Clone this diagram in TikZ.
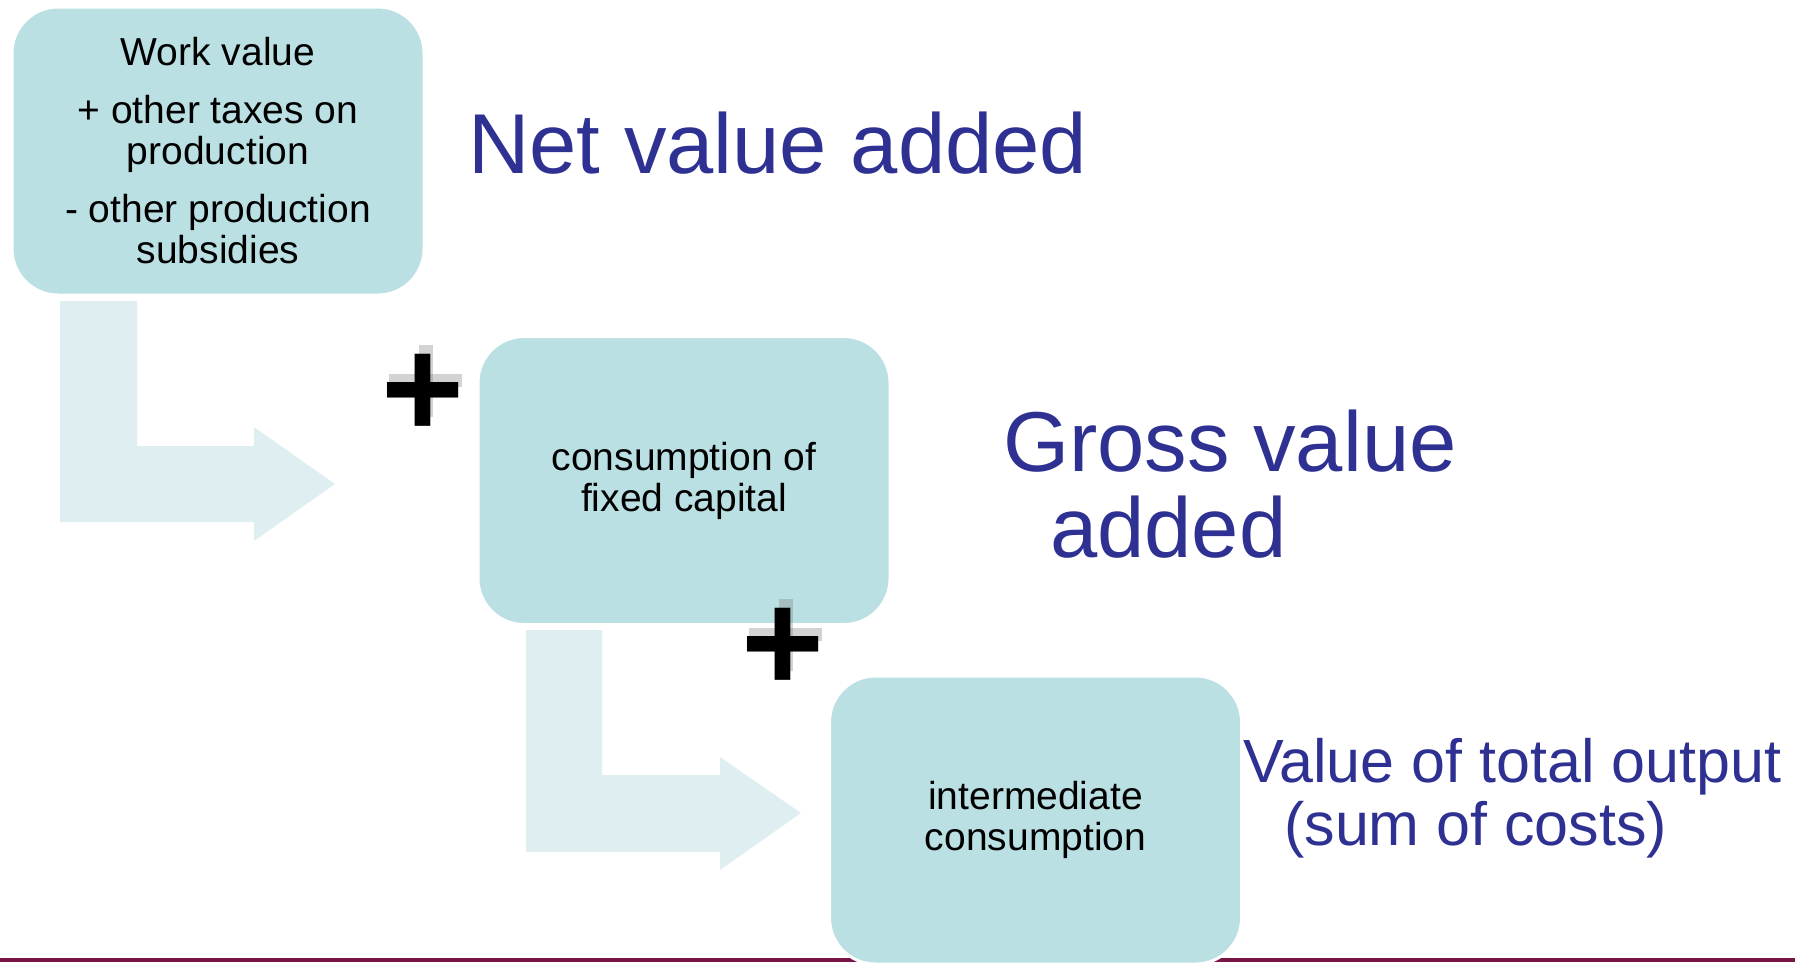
\documentclass[tikz,border=0pt]{standalone}
\usepackage{fontspec}
\setmainfont{Liberation Sans}
\usepackage{tikz}
\usetikzlibrary{positioning}
\usepackage{xcolor}
\definecolor{boxfill}{RGB}{186,224,227}
\definecolor{arrowfill}{RGB}{223,238,240}
\definecolor{navytext}{RGB}{46,49,146}
\definecolor{barline}{RGB}{120,20,70}

\begin{document}
\begin{tikzpicture}[x=1pt,y=-1pt,
        costbox/.style={fill=boxfill, draw=white, line width=3pt, rounded corners=46pt,
            minimum width=412pt, minimum height=288pt, inner sep=0pt, align=center,
            font=\fontsize{39}{41}\selectfont},
        aggtext/.style={navytext, inner sep=0pt, align=left},
        plussign/.style={inner sep=0pt, font=\bfseries\fontsize{142}{142}\selectfont}]
        \useasboundingbox (0,0) rectangle (1795,962);
        \clip (0,0) rectangle (1795,962);
        % bottom rule
        \fill[barline] (0,958) rectangle (1795,962);
        % bent arrows
        \fill[arrowfill] (60,301) -- (137,301) -- (137,446) -- (254,446) -- (254,427)
            -- (335,484) -- (254,541) -- (254,522) -- (60,522) -- cycle;
        \fill[arrowfill] (526,630) -- (602,630) -- (602,775) -- (720,775) -- (720,757)
            -- (801,813) -- (720,870) -- (720,852) -- (526,852) -- cycle;
        % cost boxes
        \node[costbox] (work) at (218,151) {Work value\\[17pt]+ other taxes on\\production\\[17pt]- other production\\subsidies};
        \node[costbox] (fixcap) at (684,480.5) {consumption of\\fixed capital};
        \node[costbox] (intcons) at (1035.5,820) {intermediate\\consumption};
        % plus signs (soft shadow behind)
        \foreach \n/\px/\py in {plusA/423/387, plusB/783/641} {
            \fill[gray, opacity=0.35] (\px-34,\py-13) rectangle (\px+39,\py);
            \fill[gray, opacity=0.35] (\px-4,\py-42) rectangle (\px+10,\py+30);
            \node[plussign] (\n) at (\px,\py+9) {+};
        }
        % aggregates
        \node[aggtext, anchor=base west, font=\fontsize{85}{86}\selectfont] (netva) at (468,173) {Net value added};
        \node[aggtext, anchor=north west, font=\fontsize{85}{86}\selectfont] (grossva) at (1003,410) {Gross value\\\hspace*{47pt}added};
        \node[aggtext, anchor=north west, font=\fontsize{61}{63}\selectfont] (totout) at (1243,738) {Value of total output\\\hspace*{41pt}(sum of costs)};
    \end{tikzpicture}
\end{document}
